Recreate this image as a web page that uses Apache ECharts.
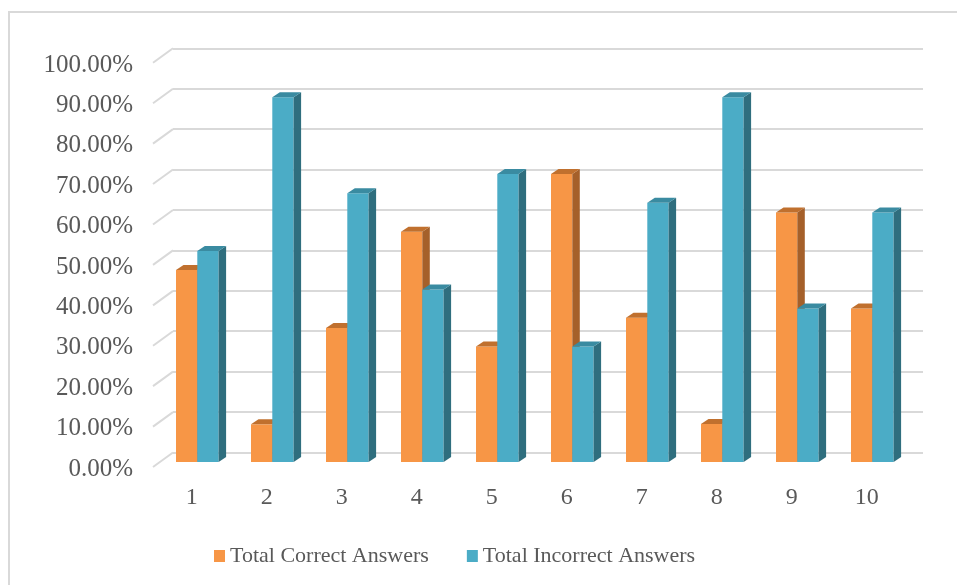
<!DOCTYPE html>
<html>
<head>
<meta charset="utf-8">
<script src="https://cdn.jsdelivr.net/npm/echarts@6/dist/echarts.min.js"></script>
<style>
html,body{margin:0;padding:0;background:#fff;}
#main{width:957px;height:585px;}
</style>
</head>
<body>
<div id="main"></div>
<script>
var categories = ['1','2','3','4','5','6','7','8','9','10'];
var correct   = [47.4, 9.3, 33.1, 56.8, 28.5, 71.1, 35.6, 9.4, 61.6, 37.9];
var incorrect = [52.1, 90.0, 66.3, 42.6, 71.1, 28.5, 64.0, 90.0, 37.9, 61.6];
var yTicks = [0,10,20,30,40,50,60,70,80,90,100];
var seriesNames = ['Total Correct Answers','Total Incorrect Answers'];

var FONT = 'Liberation Serif';
var TXT = '#595959';
var GRID_C = '#d9d9d9';
var DX = 7.5, DY = -5;   // bar depth
var WX = -20, WY = 14.5; // side wall depth (back -> front)
var BAR_FRAC = 0.284;

function bar3d(side, cFront, cTop, cSide){
  return function(params, api){
    var idx = api.value(0), v = api.value(1);
    var base = api.coord([idx, 0]);
    var p = api.coord([idx, v]);
    var band = api.size([1, 0])[0];
    var w = band * BAR_FRAC;
    var x0 = side < 0 ? p[0] - w : p[0];
    var x1 = x0 + w;
    var yt = p[1], yb = base[1];
    return {
      type: 'group',
      children: [
        {type:'polygon', shape:{points:[[x0,yt],[x1,yt],[x1,yb],[x0,yb]]}, style:{fill:cFront}},
        {type:'polygon', shape:{points:[[x1,yt],[x1,yb],[x1+DX,yb+DY],[x1+DX,yt+DY]]}, style:{fill:cSide}},
        {type:'polygon', shape:{points:[[x0,yt],[x1,yt],[x1+DX,yt+DY],[x0+DX,yt+DY]]}, style:{fill:cTop}}
      ]
    };
  };
}

var chart = echarts.init(document.getElementById('main'), null, {renderer:'canvas'});
var option = {
  backgroundColor: '#fff',
  animation: false,
  graphic: [{
    type:'polyline', shape:{points:[[9,585],[9,12],[957,12]]},
    style:{stroke:GRID_C, lineWidth:2, fill:null}, silent:true
  }],
  legend: {
    data: seriesNames,
    left: 209, top: 540,
    icon: 'rect', itemWidth: 11, itemHeight: 12, itemGap: 38,
    textStyle: {fontFamily: FONT, fontSize: 22, color: TXT}
  },
  grid: [
    {left:159.8, right:47.2, top:56.8, bottom:123},
    {left:173, right:34, top:48.3, bottom:132.5},
    {left:154.2, right:52.8, top:65, bottom:116}
  ],
  xAxis: [
    {type:'category', gridIndex:0, data:categories, show:false, boundaryGap:true},
    {type:'value', gridIndex:1, min:0, max:1, show:false},
    {type:'category', gridIndex:2, data:categories, boundaryGap:true,
     axisLine:{show:false}, axisTick:{show:false},
     axisLabel:{fontFamily:FONT, fontSize:24, color:TXT, margin:17}}
  ],
  yAxis: [
    {type:'value', gridIndex:0, min:0, max:100, show:false},
    {type:'value', gridIndex:1, min:0, max:100, interval:10,
     axisLine:{show:false}, axisTick:{show:false}, axisLabel:{show:false},
     splitLine:{show:true, showMinLine:true, showMaxLine:true, lineStyle:{color:GRID_C, width:2}}},
    {type:'value', gridIndex:2, min:0, max:100, interval:10,
     axisLine:{show:false}, axisTick:{show:false}, splitLine:{show:false},
     axisLabel:{fontFamily:FONT, fontSize:25, color:TXT, margin:21,
       formatter:function(v){return v.toFixed(2)+'%';}}}
  ],
  series: [
    {
      type:'custom', name:'wall', xAxisIndex:1, yAxisIndex:1, silent:true,
      data: yTicks.map(function(t){return [0,t];}),
      renderItem:function(params, api){
        var p = api.coord([0, api.value(1)]);
        return {type:'line', shape:{x1:p[0], y1:p[1], x2:p[0]+WX, y2:p[1]+WY},
                style:{stroke:GRID_C, lineWidth:2}};
      }
    },
    {
      type:'custom', name:seriesNames[0], xAxisIndex:0, yAxisIndex:0,
      itemStyle:{color:'#F79646'},
      data: correct.map(function(v,i){return [i,v];}),
      renderItem: bar3d(-1, '#F79646', '#C0702E', '#A5602A')
    },
    {
      type:'custom', name:seriesNames[1], xAxisIndex:0, yAxisIndex:0,
      itemStyle:{color:'#4BACC6'},
      data: incorrect.map(function(v,i){return [i,v];}),
      renderItem: bar3d(1, '#4BACC6', '#3A8BA1', '#2F6E7E')
    }
  ]
};
chart.setOption(option);
</script>
</body>
</html>
